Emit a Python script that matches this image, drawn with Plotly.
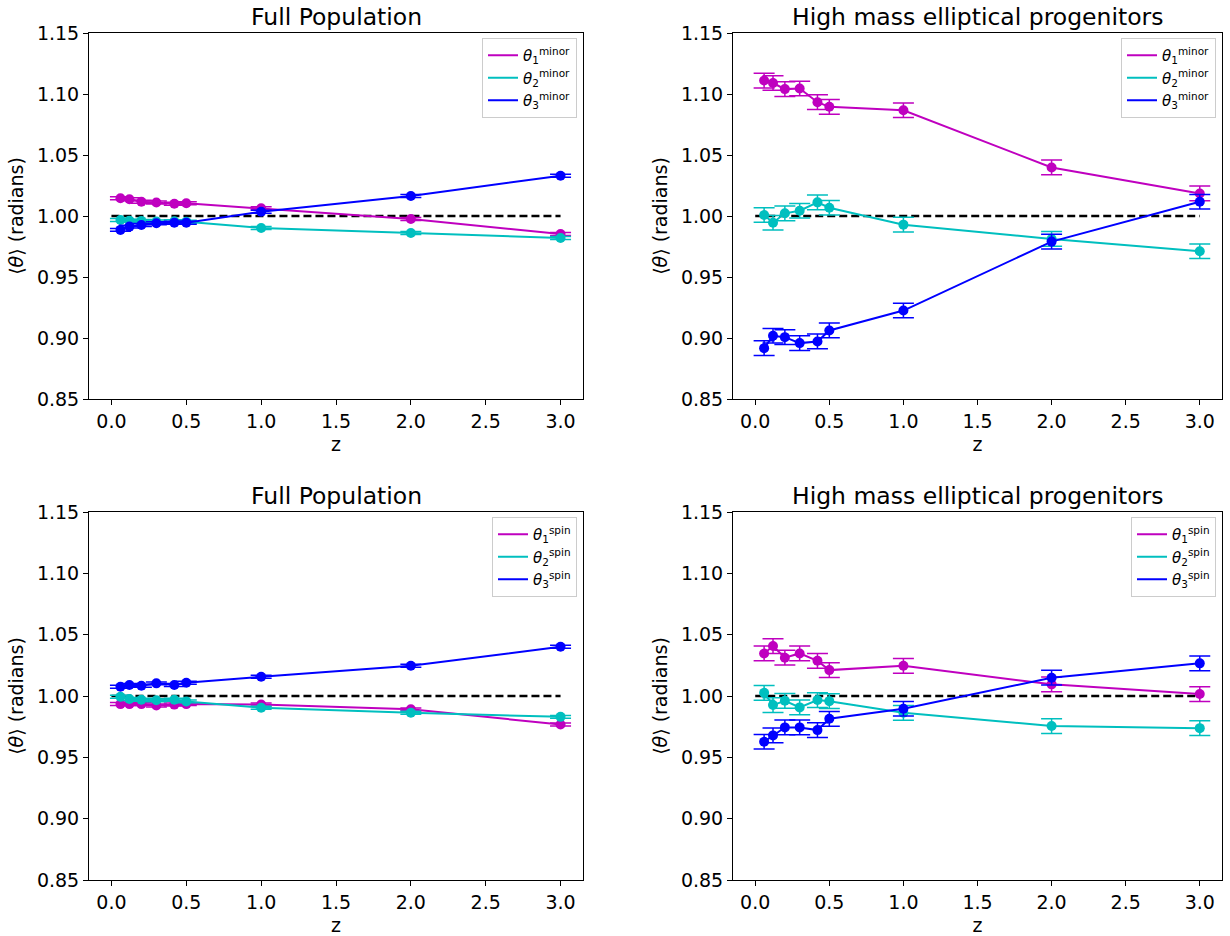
import plotly.graph_objects as go

# ---------------- data ----------------
z = [0.06, 0.12, 0.2, 0.3, 0.42, 0.5, 1.0, 2.0, 3.0]

# Full population, minor axis
full_minor_1 = [1.0145, 1.0137, 1.0117, 1.0110, 1.0100, 1.0104, 1.0063, 0.9975, 0.9853]
full_minor_2 = [0.9967, 0.9962, 0.9960, 0.9955, 0.9957, 0.9953, 0.9902, 0.9860, 0.9820]
full_minor_3 = [0.9886, 0.9913, 0.9926, 0.9940, 0.9945, 0.9945, 1.0035, 1.0164, 1.0330]
full_minor_err = [0.0012] * 9

# High mass elliptical progenitors, minor axis
high_minor_1 = [1.1110, 1.1090, 1.1040, 1.1045, 1.0933, 1.0895, 1.0867, 1.0398, 1.0185]
high_minor_2 = [1.0008, 0.9945, 1.0022, 1.0043, 1.0112, 1.0068, 0.9929, 0.9812, 0.9711]
high_minor_3 = [0.8917, 0.9018, 0.9007, 0.8958, 0.8972, 0.9062, 0.9225, 0.9790, 1.0117]
high_minor_err = [0.006] * 9

# Full population, spin
full_spin_1 = [0.9934, 0.9934, 0.9934, 0.9923, 0.9930, 0.9934, 0.9931, 0.9891, 0.9768]
full_spin_2 = [0.9994, 0.9975, 0.9970, 0.9965, 0.9970, 0.9956, 0.9904, 0.9863, 0.9830]
full_spin_3 = [1.0075, 1.0089, 1.0083, 1.0103, 1.0089, 1.0108, 1.0157, 1.0246, 1.0401]
full_spin_err = [0.0012] * 9

# High mass elliptical progenitors, spin
high_spin_1 = [1.0347, 1.0407, 1.0312, 1.0347, 1.0287, 1.0211, 1.0246, 1.0095, 1.0016]
high_spin_2 = [1.0026, 0.9926, 0.9961, 0.9907, 0.9967, 0.9958, 0.9863, 0.9755, 0.9738]
high_spin_3 = [0.9627, 0.9679, 0.9744, 0.9744, 0.9722, 0.9814, 0.9896, 1.0149, 1.0266]
high_spin_err = [0.006] * 9

ref_x = [0.0, 3.0]
ref_y = [1.0, 1.0]

titles = ["Full Population", "High mass elliptical progenitors",
          "Full Population", "High mass elliptical progenitors"]
y_ticks = [0.85, 0.90, 0.95, 1.00, 1.05, 1.10, 1.15]
x_ticks = [0.0, 0.5, 1.0, 1.5, 2.0, 2.5, 3.0]

colors = ["#bf00bf", "#00bfbf", "#0000ff"]
FONT = "DejaVu Sans"

panels = [
    ("minor", [full_minor_1, full_minor_2, full_minor_3], full_minor_err),
    ("minor", [high_minor_1, high_minor_2, high_minor_3], high_minor_err),
    ("spin", [full_spin_1, full_spin_2, full_spin_3], full_spin_err),
    ("spin", [high_spin_1, high_spin_2, high_spin_3], high_spin_err),
]

W, H = 1230, 936
# panel pixel boxes (left, right, top, bottom)
boxes = [(89, 583, 33, 399), (733, 1222, 33, 399),
         (89, 583, 512, 880), (733, 1222, 512, 880)]

fig = go.Figure()
layout = dict(
    width=W, height=H,
    margin=dict(l=0, r=0, t=0, b=0),
    paper_bgcolor="white", plot_bgcolor="white",
    font=dict(family=FONT, color="black", size=19),
    annotations=[],
)

for i, ((kind, series, err), box) in enumerate(zip(panels, boxes)):
    n = "" if i == 0 else str(i + 1)
    xa, ya = "x" + n, "y" + n
    leg = "legend" + n
    # dashed reference line
    fig.add_trace(go.Scatter(
        x=ref_x, y=ref_y, mode="lines", xaxis=xa, yaxis=ya,
        line=dict(color="black", width=2.6, dash="8px,4px"),
        showlegend=False, hoverinfo="skip"))
    for k, vals in enumerate(series):
        fig.add_trace(go.Scatter(
            x=z, y=vals, mode="lines+markers", xaxis=xa, yaxis=ya,
            line=dict(color=colors[k], width=2),
            marker=dict(color=colors[k], size=10),
            error_y=dict(type="data", array=err, color=colors[k],
                         thickness=1.5, width=10.5),
            showlegend=False))
    # legend-only line entries
    for k in range(3):
        fig.add_trace(go.Scatter(
            x=[None], y=[None], mode="lines", xaxis=xa, yaxis=ya,
            line=dict(color=colors[k], width=2),
            name=f"<i>θ</i><sub>{k+1}</sub><sup>{kind}</sup>",
            legend=leg, showlegend=True))

    l, r, t, b = box
    xdom = [l / W, r / W]
    ydom = [1 - b / H, 1 - t / H]
    axis_common = dict(showline=True, linecolor="black", linewidth=1, mirror=True,
                       ticks="outside", ticklen=5, tickwidth=1, tickcolor="black",
                       showgrid=False, zeroline=False, automargin=False,
                       tickfont=dict(size=19, family=FONT))
    layout["xaxis" + n] = dict(
        domain=xdom, range=[-0.15, 3.15], tickvals=x_ticks,
        ticktext=[f"{v:.1f}" for v in x_ticks], anchor=ya,
        title=dict(text="z", standoff=6, font=dict(size=19, family=FONT)),
        **axis_common)
    layout["yaxis" + n] = dict(
        domain=ydom, range=[0.85, 1.15], tickvals=y_ticks,
        ticktext=[f"{v:.2f}" for v in y_ticks], anchor=xa,
        title=dict(text="⟨<i>θ</i>⟩ (radians)", standoff=8,
                   font=dict(size=19, family=FONT)),
        **axis_common)
    layout[leg] = dict(
        x=(r - 6) / W, y=1 - (t + 5) / H, xanchor="right", yanchor="top",
        xref="paper", yref="paper",
        bgcolor="rgba(255,255,255,0.8)", bordercolor="#cccccc", borderwidth=1,
        font=dict(size=15, family=FONT), itemwidth=30, tracegroupgap=0)
    layout["annotations"].append(dict(
        text=titles[i], x=(l + r) / 2 / W, y=1 - (t - 16) / H,
        xref="paper", yref="paper", xanchor="center", yanchor="middle",
        showarrow=False, font=dict(size=23.5, family=FONT)))

fig.update_layout(**layout)
fig.write_html("out.html",
               config={"displayModeBar": False},
               post_script="document.body.style.margin='0';document.body.style.padding='0';")
